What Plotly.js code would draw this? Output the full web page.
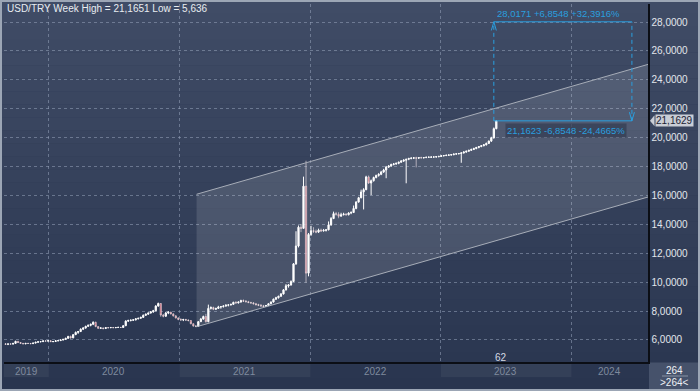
<!DOCTYPE html>
<html><head><meta charset="utf-8">
<script src="https://cdn.plot.ly/plotly-3.0.1.min.js"></script>
<style>html,body{margin:0;padding:0;background:#2e3a54;}#chart{width:700px;height:391px;}</style>
</head><body><div id="chart"></div>
<script>
// ---- data (weekly candles, USD/TRY) ----
const startWeek = '2019-09-02';
const openVals = [
5.72,5.70,5.72,5.71,5.76,5.90,5.82,5.76,5.73,5.76,
5.75,5.74,5.78,5.84,5.87,5.88,5.93,5.92,5.94,5.88,
5.89,5.94,5.95,5.99,6.04,6.11,6.24,6.14,6.36,6.52,
6.58,6.74,6.82,6.94,7.01,7.08,7.22,6.92,6.80,6.83,
6.79,6.85,6.84,6.86,6.84,6.86,6.87,6.86,6.98,7.30,
7.34,7.36,7.39,7.46,7.50,7.56,7.70,7.78,7.86,7.94,
8.02,8.34,8.52,7.72,7.64,7.86,7.92,7.80,7.66,7.52,
7.42,7.38,7.41,7.37,7.34,7.12,6.96,6.94,7.26,7.44,
7.62,7.26,8.18,8.24,8.12,8.18,8.28,8.30,8.34,8.40,
8.42,8.46,8.60,8.56,8.62,8.72,8.68,8.64,8.58,8.56,
8.50,8.44,8.40,8.35,8.32,8.38,8.50,8.62,8.82,8.92,
9.02,9.18,9.46,9.74,9.80,10.04,11.26,12.50,13.80,13.72,
16.64,10.62,13.30,13.56,13.52,13.46,13.60,13.54,13.58,13.62,
13.96,14.40,14.74,14.70,14.56,14.66,14.70,14.66,14.78,14.82,
15.10,15.54,15.84,16.24,16.40,17.28,16.86,17.02,17.24,17.38,
17.46,17.62,17.76,17.96,18.04,18.14,18.18,18.22,18.30,18.38,
18.44,18.50,18.56,18.58,18.60,18.58,18.62,18.60,18.62,18.64,
18.64,18.66,18.66,18.68,18.70,18.74,18.76,18.78,18.80,18.82,
18.86,18.88,18.90,18.94,19.00,19.06,19.12,19.18,19.24,19.32,
19.38,19.44,19.50,19.60,19.76,19.98,20.62];
const highVals = [
5.78,5.74,5.76,5.78,5.94,5.93,5.84,5.79,5.78,5.80,
5.79,5.80,5.86,5.90,5.92,5.95,5.97,5.98,5.99,5.92,
5.96,5.98,6.02,6.06,6.14,6.28,6.30,6.40,6.58,6.62,
6.80,6.88,6.98,7.06,7.12,7.28,7.26,6.96,6.86,6.85,
6.87,6.89,6.88,6.89,6.88,6.90,6.89,7.02,7.36,7.40,
7.42,7.42,7.48,7.52,7.60,7.76,7.82,7.90,7.98,8.08,
8.40,8.58,8.54,7.80,7.94,7.98,7.94,7.84,7.72,7.56,
7.50,7.46,7.46,7.42,7.36,7.14,7.02,7.30,7.52,7.68,
7.80,8.44,8.32,8.30,8.22,8.36,8.34,8.40,8.46,8.48,
8.50,8.64,8.68,8.66,8.78,8.80,8.76,8.70,8.64,8.62,
8.56,8.50,8.48,8.42,8.42,8.54,8.66,8.86,8.98,9.06,
9.24,9.52,9.86,9.86,10.12,11.32,13.52,13.92,14.02,17.30,
18.40,13.40,13.90,13.80,13.64,13.70,13.70,13.68,13.66,14.20,
14.50,14.88,14.86,14.84,14.80,14.80,14.78,14.84,14.90,15.30,
15.60,15.90,16.40,16.50,17.36,17.38,17.10,17.30,17.44,17.54,
17.70,17.84,18.04,18.10,18.20,18.24,18.28,18.34,18.44,18.50,
18.54,18.60,18.64,18.66,18.68,18.66,18.68,18.66,18.68,18.70,
18.70,18.70,18.72,18.74,18.78,18.80,18.82,18.84,18.86,18.90,
18.92,18.94,19.00,19.06,19.10,19.16,19.24,19.30,19.36,19.42,
19.48,19.56,19.66,19.80,20.06,20.70,21.1651];
const lowVals = [
5.66,5.64,5.68,5.68,5.74,5.80,5.74,5.70,5.70,5.72,
5.70,5.72,5.76,5.80,5.84,5.86,5.88,5.89,5.86,5.84,
5.86,5.90,5.93,5.97,6.02,6.08,6.08,6.12,6.34,6.42,
6.54,6.68,6.78,6.90,6.94,7.02,6.88,6.76,6.76,6.72,
6.75,6.80,6.82,6.82,6.82,6.84,6.84,6.84,6.96,7.24,
7.28,7.32,7.34,7.42,7.46,7.52,7.66,7.74,7.82,7.88,
7.98,8.30,7.60,7.56,7.60,7.78,7.76,7.62,7.48,7.36,
7.32,7.30,7.32,7.28,7.08,6.92,6.88,6.90,7.24,7.40,
7.20,7.22,8.10,8.06,8.08,8.14,8.16,8.24,8.30,8.32,
8.38,8.44,8.50,8.52,8.58,8.62,8.60,8.56,8.50,8.46,
8.38,8.34,8.30,8.28,8.28,8.34,8.46,8.58,8.76,8.86,
8.98,9.14,9.42,9.62,9.76,10.00,11.20,12.40,13.46,13.70,
9.96,10.40,13.20,13.40,13.38,13.40,13.48,13.50,13.50,13.58,
13.90,14.36,14.60,14.42,14.54,14.62,14.60,14.62,14.70,14.78,
15.04,15.50,15.80,15.03,16.36,16.80,16.02,16.96,17.18,17.30,
17.40,17.56,17.19,17.90,17.98,18.08,18.12,18.16,18.26,18.32,
16.84,18.44,18.50,18.52,17.94,18.52,18.56,18.56,18.58,18.60,
18.60,18.62,18.62,18.64,18.66,18.70,18.72,18.74,18.76,18.78,
18.82,18.84,18.26,18.90,18.96,19.02,19.08,19.14,19.20,19.26,
19.34,19.40,19.46,19.56,19.70,19.94,20.58];
const closeVals = [
5.70,5.72,5.71,5.76,5.90,5.82,5.76,5.73,5.76,5.75,
5.74,5.78,5.84,5.87,5.88,5.93,5.92,5.94,5.88,5.89,
5.94,5.95,5.99,6.04,6.11,6.24,6.14,6.36,6.52,6.58,
6.74,6.82,6.94,7.01,7.08,7.22,6.92,6.80,6.83,6.79,
6.85,6.84,6.86,6.84,6.86,6.87,6.86,6.98,7.30,7.34,
7.36,7.39,7.46,7.50,7.56,7.70,7.78,7.86,7.94,8.02,
8.34,8.52,7.72,7.64,7.86,7.92,7.80,7.66,7.52,7.42,
7.38,7.41,7.37,7.34,7.12,6.96,6.94,7.26,7.44,7.62,
7.26,8.18,8.24,8.12,8.18,8.28,8.30,8.34,8.40,8.42,
8.46,8.60,8.56,8.62,8.72,8.68,8.64,8.58,8.56,8.50,
8.44,8.40,8.35,8.32,8.38,8.50,8.62,8.82,8.92,9.02,
9.18,9.46,9.74,9.80,10.04,11.26,12.50,13.80,13.72,16.64,
10.62,13.30,13.56,13.52,13.46,13.60,13.54,13.58,13.62,13.96,
14.40,14.74,14.70,14.56,14.66,14.70,14.66,14.78,14.82,15.10,
15.54,15.84,16.24,16.40,17.28,16.86,17.02,17.24,17.38,17.46,
17.62,17.76,17.96,18.04,18.14,18.18,18.22,18.30,18.38,18.44,
18.50,18.56,18.58,18.60,18.58,18.62,18.60,18.62,18.64,18.64,
18.66,18.66,18.68,18.70,18.74,18.76,18.78,18.80,18.82,18.86,
18.88,18.90,18.94,19.00,19.06,19.12,19.18,19.24,19.32,19.38,
19.44,19.50,19.60,19.76,19.98,20.62,21.1629];

const yTicks = [6,8,10,12,14,16,18,20,22,24,26,28];
const yearLabels = ['2019','2020','2021','2022','2023','2024'];
const yearCenters = ['2019-10-31','2020-07-01','2021-07-02','2022-07-02','2023-07-02','2024-04-17'];
const yearStarts = ['2019-08-28 17:00','2020-01-01','2021-01-01','2022-01-01','2023-01-01','2024-01-01'];
const yearEnds   = ['2020-01-01','2021-01-01','2022-01-01','2023-01-01','2024-01-01','2024-08-02'];

// regression channel
const channelX = ['2021-02-17','2024-08-02'];
const channelUpper = [16.08, 25.07];
const channelLower = [6.91, 15.89];

// measuring box
const boxX = ['2023-05-29','2024-06-18'];
const boxTop = 28.0171, boxBottom = 21.1623;
const boxTopText = '28,0171 +6,8548 +32,3916%';
const boxBottomText = '21,1623 -6,8548 -24,4665%';
const lastPrice = 21.1629;
const titleText = 'USD/TRY Week High = 21,1651 Low = 5,636';

(function(){
const DAY = 86400000;
const t0 = Date.parse(startWeek + 'T00:00:00Z');
const toStr = ms => new Date(ms).toISOString().slice(0,19).replace('T',' ');
const dates = closeVals.map((_, i) => toStr(t0 + i*7*DAY));

const xRange = ['2019-08-28 17:00','2024-08-02'];
const yRange = [4.47, 29.25];

const traces = [
  {type:'scatter', mode:'lines', x:[channelX[0],channelX[1],channelX[1],channelX[0]],
   y:[channelUpper[0],channelUpper[1],channelLower[1],channelLower[0]],
   fill:'toself', fillcolor:'rgba(255,255,255,0.12)', line:{width:0}, hoverinfo:'skip'},
  {type:'scatter', mode:'lines', x:channelX, y:channelUpper, line:{color:'#a7adb8', width:1}, hoverinfo:'skip'},
  {type:'scatter', mode:'lines', x:channelX, y:channelLower, line:{color:'#a7adb8', width:1}, hoverinfo:'skip'},
  {type:'candlestick', x:dates, open:openVals, high:highVals, low:lowVals, close:closeVals,
   increasing:{line:{color:'#ffffff', width:1}, fillcolor:'#ffffff'},
   decreasing:{line:{color:'#f4e6ea', width:0.6}, fillcolor:'#d0485c'},
   whiskerwidth:0, hoverinfo:'skip'}
];

const PW = 644, PH = 358;
const px = X => (X - 4) / PW;
const py = Y => (362 - Y) / PH;

const shapes = [];
const gTop = [64,76,102], gBot = [41,53,79];
const N = 30;
for (let k = 0; k < N; k++) {
  const f = (k + 0.5) / N;
  const c = gTop.map((v, j) => Math.round(v + (gBot[j] - v) * f));
  shapes.push({type:'rect', xref:'paper', yref:'paper', layer:'below',
    x0:px(0), x1:px(700), y0:py(391*(k+1)/N), y1:py(391*k/N),
    fillcolor:`rgb(${c[0]},${c[1]},${c[2]})`, line:{width:0}});
}
yearStarts.forEach((s, i) => {
  if (i % 2 === 0) shapes.push({type:'rect', xref:'x', yref:'paper', layer:'below',
    x0:s, x1:yearEnds[i], y0:py(377), y1:py(363),
    fillcolor:'rgba(255,255,255,0.05)', line:{width:0}});
});
shapes.push({type:'rect', xref:'paper', yref:'paper', layer:'below',
  x0:px(649), x1:px(700), y0:py(391), y1:py(362.5), fillcolor:'#46526b', line:{width:0}});
shapes.push({type:'line', xref:'paper', yref:'paper', x0:px(662), x1:px(688), y0:py(376), y1:py(376),
  line:{color:'#8a94a6', width:1}});
shapes.push({type:'rect', xref:'paper', yref:'paper', x0:px(1), x1:px(699), y0:py(390), y1:py(1),
  line:{color:'#9ca6b5', width:2}, fillcolor:'rgba(0,0,0,0)'});
const blue = '#2a9fdf';
shapes.push({type:'line', xref:'x', yref:'y', x0:boxX[0], x1:boxX[1], y0:boxTop, y1:boxTop, line:{color:blue, width:1}});
shapes.push({type:'line', xref:'x', yref:'y', x0:boxX[0], x1:boxX[1], y0:boxBottom, y1:boxBottom, line:{color:blue, width:1}});
shapes.push({type:'line', xref:'x', yref:'y', x0:boxX[0], x1:boxX[0], y0:boxBottom, y1:boxTop, line:{color:blue, width:1, dash:'4px,3px'}});
shapes.push({type:'line', xref:'x', yref:'y', x0:boxX[1], x1:boxX[1], y0:boxBottom, y1:boxTop, line:{color:blue, width:1, dash:'4px,3px'}});
const Lm = Date.parse(boxX[0]+'T00:00:00Z'), Rm = Date.parse(boxX[1]+'T00:00:00Z');
const dxm = 7*DAY, dym = 0.6;
[[Lm, boxTop, -1], [Rm, boxBottom, 1]].forEach(([xm, yv, s]) => {
  shapes.push({type:'line', xref:'x', yref:'y', x0:toStr(xm-dxm), x1:toStr(xm), y0:yv + s*dym, y1:yv, line:{color:blue, width:1}});
  shapes.push({type:'line', xref:'x', yref:'y', x0:toStr(xm+dxm), x1:toStr(xm), y0:yv + s*dym, y1:yv, line:{color:blue, width:1}});
});
shapes.push({type:'path', xref:'paper', yref:'y', path:`M ${px(650)} ${lastPrice} L ${px(654.5)} ${lastPrice+0.38} L ${px(654.5)} ${lastPrice-0.38} Z`,
  fillcolor:'#c9cdd5', line:{width:0}});

const annotations = [
  {xref:'paper', yref:'paper', x:px(5), y:py(8.5), xanchor:'left', yanchor:'middle', showarrow:false,
   text:titleText, font:{size:10, color:'#e8ecf1'}},
  {xref:'x', yref:'y', x:'2023-06-01', y:boxTop, xanchor:'left', yanchor:'bottom', yshift:1, showarrow:false,
   text:boxTopText, font:{size:9.5, color:blue}},
  {xref:'x', yref:'y', x:'2023-06-30', y:boxBottom, xanchor:'left', yanchor:'top', yshift:-2, showarrow:false,
   text:boxBottomText, font:{size:9.5, color:blue}, bgcolor:'rgba(52,62,84,0.75)', borderpad:1},
  {xref:'paper', yref:'y', x:px(654.5), y:lastPrice, xanchor:'left', yanchor:'middle', showarrow:false,
   text:'21,1629', font:{size:10, color:'#1c2233'}, bgcolor:'#c9cdd5', borderpad:0},
  {xref:'x', yref:'paper', x:'2023-06-17', y:py(357), xanchor:'center', yanchor:'middle', showarrow:false,
   text:'62', font:{size:10, color:'#d4dae4'}},
  {xref:'paper', yref:'paper', x:px(674.5), y:py(370), xanchor:'center', yanchor:'middle', showarrow:false,
   text:'264', font:{size:10, color:'#eef1f5'}},
  {xref:'paper', yref:'paper', x:px(674.5), y:py(382), xanchor:'center', yanchor:'middle', showarrow:false,
   text:'&gt;264&lt;', font:{size:10, color:'#eef1f5'}}
];
yearLabels.forEach((t, i) => annotations.push({xref:'x', yref:'paper', x:yearCenters[i], y:py(371),
  xanchor:'center', yanchor:'middle', showarrow:false, text:t, font:{size:10, color:'#7f8a9e'}}));

const grid = 'rgba(150,162,186,0.55)';
const layout = {
  width:700, height:391,
  margin:{l:4, r:52, t:4, b:29, pad:0},
  paper_bgcolor:'#2e3a54', plot_bgcolor:'rgba(0,0,0,0)',
  separators:',.',
  font:{family:'Liberation Sans, Arial, sans-serif', size:10, color:'#e2e6ec'},
  showlegend:false,
  xaxis:{type:'date', range:xRange, tick0:'2020-01-01', dtick:'M12', showgrid:true, gridcolor:grid,
    griddash:'3px,3px', gridwidth:1, showticklabels:false, ticks:'', showline:true, linecolor:'#0b0e15',
    linewidth:1.5, zeroline:false, rangeslider:{visible:false}, fixedrange:true},
  yaxis:{side:'right', range:yRange, tickvals:yTicks, tickformat:'.4f', showgrid:true, gridcolor:grid,
    griddash:'3px,3px', gridwidth:1, ticks:'', showline:true, linecolor:'#0b0e15', linewidth:1.5,
    zeroline:false, tickfont:{size:10, color:'#e2e6ec'}, fixedrange:true},
  shapes, annotations
};
Plotly.newPlot('chart', traces, layout, {staticPlot:true, displayModeBar:false});
})();
</script></body></html>
